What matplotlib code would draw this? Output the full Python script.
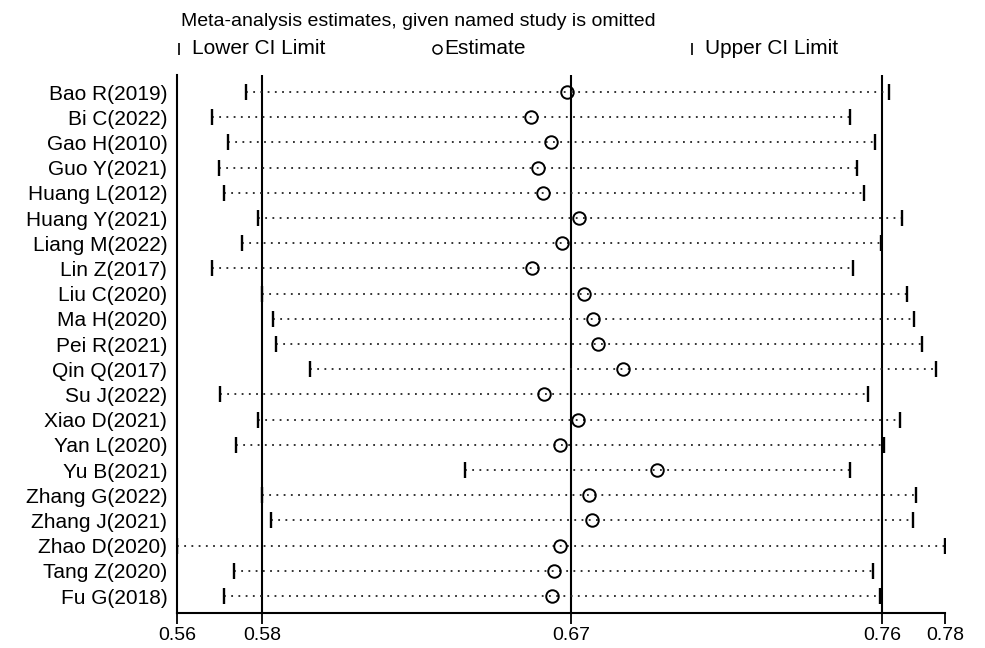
import matplotlib.pyplot as plt
from matplotlib.lines import Line2D

plt.rcParams['font.family'] = ['Liberation Sans', 'DejaVu Sans']

studies = ["Bao R(2019)", "Bi C(2022)", "Gao H(2010)", "Guo Y(2021)", "Huang L(2012)",
           "Huang Y(2021)", "Liang M(2022)", "Lin Z(2017)", "Liu C(2020)", "Ma H(2020)",
           "Pei R(2021)", "Qin Q(2017)", "Su J(2022)", "Xiao D(2021)", "Yan L(2020)",
           "Yu B(2021)", "Zhang G(2022)", "Zhang J(2021)", "Zhao D(2020)", "Tang Z(2020)",
           "Fu G(2018)"]
estimate = [0.6688, 0.6584, 0.6642, 0.6604, 0.6619, 0.6724, 0.6673, 0.6588, 0.6739, 0.6764,
            0.6780, 0.6850, 0.6621, 0.6722, 0.6669, 0.6950, 0.6753, 0.6761, 0.6669, 0.6652,
            0.6645]
lower = [0.5759, 0.5660, 0.5707, 0.5681, 0.5695, 0.5795, 0.5747, 0.5660, 0.5806, 0.5837,
         0.5847, 0.5945, 0.5685, 0.5795, 0.5731, 0.6393, 0.5806, 0.5831, 0.5560, 0.5726,
         0.5695]
upper = [0.7622, 0.7507, 0.7580, 0.7528, 0.7548, 0.7658, 0.7599, 0.7516, 0.7673, 0.7694,
         0.7715, 0.7757, 0.7559, 0.7652, 0.7605, 0.7507, 0.7700, 0.7689, 0.7783, 0.7574,
         0.7596]

# combined estimate and its CI (reference lines), plus axis ends
full_lower, full_est, full_upper = 0.5806, 0.6700, 0.7600
tick_values = [0.5560, 0.5806, 0.6700, 0.7600, 0.7783]
tick_labels = ["0.56", "0.58", "0.67", "0.76", "0.78"]

fig = plt.figure(figsize=(9.85, 6.48), dpi=100)
ax = fig.add_axes([177/985, 1-613/648, (945-177)/985, (613-75)/648])

n = len(studies)
ypos = list(range(n))

for v in [full_lower, full_est, full_upper]:
    ax.axvline(v, color='black', lw=1.5, zorder=1)

for i in ypos:
    ax.plot([lower[i], upper[i]], [i, i], color='#222222', lw=1.3,
            linestyle=(0, (1, 3)), zorder=2)
ax.plot(lower, ypos, linestyle='none', marker='|', markersize=12, mew=1.7, color='black', zorder=3)
ax.plot(upper, ypos, linestyle='none', marker='|', markersize=12, mew=1.7, color='black', zorder=3)
ax.plot(estimate, ypos, linestyle='none', marker='o', markersize=9, mfc='none',
        mec='black', mew=1.4, zorder=4)

ax.set_xlim(tick_values[0], tick_values[-1])
ax.set_ylim(20.67, -0.675)
ax.set_xticks(tick_values)
ax.set_xticklabels(tick_labels, fontsize=14)
ax.set_yticks(ypos)
ax.set_yticklabels(studies, fontsize=15)
ax.tick_params(axis='y', length=0, pad=7)
ax.tick_params(axis='x', length=8, width=1.3, pad=2)
ax.spines['top'].set_visible(False)
ax.spines['right'].set_visible(False)
ax.spines['left'].set_linewidth(1.5)
ax.spines['bottom'].set_linewidth(1.5)

# title and legend
fig.text(181/985, 1-21/648, "Meta-analysis estimates, given named study is omitted",
         fontsize=14, va='center', ha='left')
ly = 1-49/648
fig.add_artist(Line2D([179/985], [ly], marker='|', markersize=9, mew=1.2, color='black'))
fig.text(192/985, ly, "Lower CI Limit", fontsize=15, va='center')
fig.add_artist(Line2D([437/985], [ly], marker='o', markersize=6.5, mfc='none', mec='black', mew=1.1))
fig.text(444/985, ly, "Estimate", fontsize=15, va='center')
fig.add_artist(Line2D([692/985], [ly], marker='|', markersize=9, mew=1.2, color='black'))
fig.text(705/985, ly, "Upper CI Limit", fontsize=15, va='center')

fig.savefig("out.png", dpi=100)
